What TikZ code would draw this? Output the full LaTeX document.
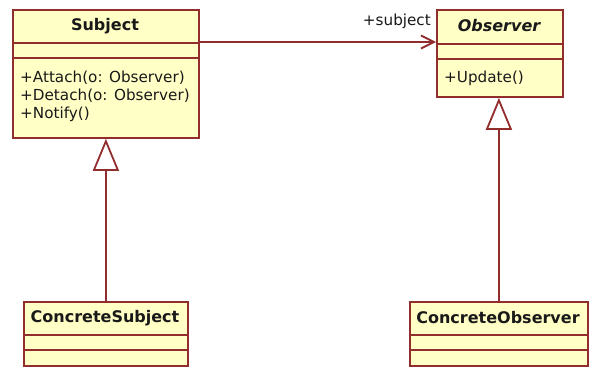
\documentclass[tikz,border=0pt]{standalone}
\usepackage{fontspec}
\setmainfont{DejaVu Sans}
\usetikzlibrary{arrows.meta}
\definecolor{umlfill}{RGB}{255,255,198}
\definecolor{umlline}{RGB}{145,45,45}
\definecolor{umltext}{RGB}{25,25,25}
\begin{document}
\begin{tikzpicture}[x=1pt,y=-1pt,
  box/.style={draw=umlline, fill=umlfill, line width=1.8pt, inner sep=0pt, anchor=north west},
  sep/.style={draw=umlline, line width=1.8pt},
  txt/.style={inner sep=0pt, text=umltext, font=\fontsize{15.2}{18}\selectfont},
  title/.style={txt, font=\fontsize{16}{18}\selectfont\bfseries},
  method/.style={txt, anchor=base west},
  inherit/.style={draw=umlline, line width=1.8pt, -{Triangle[length=32pt, width=26pt, fill=white]}},
  assoc/.style={draw=umlline, line width=1.8pt, -{Straight Barb[length=13pt, width=13pt]}}]
\useasboundingbox (0,0) rectangle (596,372);
\fill[white] (0,0) rectangle (596,372);

% Subject
\node[box, minimum width=186pt, minimum height=128pt] (subj) at (12,9) {};
\draw[sep] (12,43) -- (198,43);
\draw[sep] (12,58) -- (198,58);
\node[title] (subjname) at (105,26) {Subject};
\node[method] (m1) at (20,82) {+Attach(o: Observer)};
\node[method] (m2) at (20,100) {+Detach(o: Observer)};
\node[method] (m3) at (20,118) {+Notify()};

% Observer
\node[box, minimum width=126pt, minimum height=87pt] (obs) at (436,9) {};
\draw[sep] (436,44) -- (562,44);
\draw[sep] (436,59) -- (562,59);
\node[title, font=\fontsize{16}{18}\selectfont\bfseries\itshape] (obsname) at (499,26) {Observer};
\node[method] (m4) at (444,82) {+Update()};

% ConcreteSubject
\node[box, minimum width=164pt, minimum height=64pt] (csub) at (23,301) {};
\draw[sep] (23,335) -- (187,335);
\draw[sep] (23,350) -- (187,350);
\node[title] (csubname) at (105,318) {ConcreteSubject};

% ConcreteObserver
\node[box, minimum width=178pt, minimum height=64pt] (cobs) at (409,301) {};
\draw[sep] (409,335) -- (587,335);
\draw[sep] (409,350) -- (587,350);
\node[title] (cobsname) at (498,318) {ConcreteObserver};

% connectors
\draw[assoc] ([yshift=-33pt]subj.north east) -- ([yshift=-33pt]obs.north west);
\node[txt, anchor=base east] (lbl) at (431,25) {+subject};
\draw[inherit] (csub.north) -- (subj.south);
\draw[inherit] (cobs.north) -- (cobs.north |- obs.south);
\end{tikzpicture}
\end{document}
